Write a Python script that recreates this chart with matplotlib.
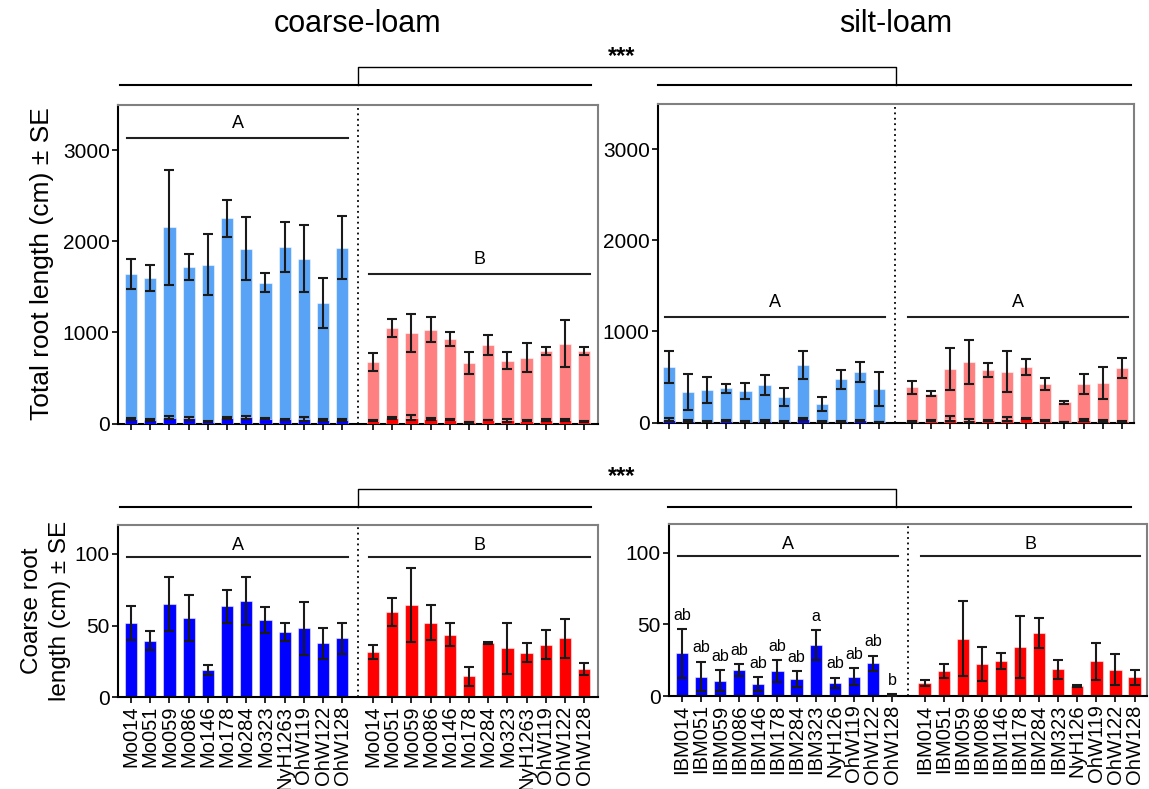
import matplotlib
matplotlib.use("Agg")
import matplotlib.pyplot as plt
from matplotlib.lines import Line2D
import numpy as np

plt.rcParams['font.family'] = ['Liberation Sans', 'DejaVu Sans']

mo_lines = ["Mo014", "Mo051", "Mo059", "Mo086", "Mo146", "Mo178", "Mo284",
            "Mo323", "NyH1263", "OhW119", "OhW122", "OhW128"]
ibm_lines = ["IBM014", "IBM051", "IBM059", "IBM086", "IBM146", "IBM178", "IBM284",
             "IBM323", "NyH126", "OhW119", "OhW122", "OhW128"]

# total root length (cm) -- coarse-loam
tot_cl_blue = [1640, 1595, 2155, 1720, 1740, 2250, 1920, 1547, 1936, 1808, 1320, 1929]
tot_cl_blue_se = [165, 143, 630, 143, 335, 200, 345, 107, 273, 368, 275, 348]
tot_cl_red = [678, 1049, 990, 1030, 928, 664, 862, 686, 722, 799, 876, 796]
tot_cl_red_se = [100, 95, 207, 137, 75, 117, 110, 93, 158, 44, 260, 48]
# total root length (cm) -- silt-loam
tot_sl_blue = [607, 335, 357, 375, 349, 412, 279, 629, 202, 474, 555, 368]
tot_sl_blue_se = [173, 193, 138, 48, 88, 112, 100, 156, 79, 105, 107, 186]
tot_sl_red = [386, 316, 588, 665, 577, 559, 607, 423, 221, 423, 434, 596]
tot_sl_red_se = [74, 28, 232, 245, 80, 225, 86, 66, 18, 110, 176, 112]

# coarse root length (cm)
crs_cl_blue = [51.7, 39.4, 65.0, 55.5, 18.9, 63.4, 66.9, 53.6, 45.2, 48.0, 37.8, 41.0]
crs_cl_blue_se = [11.8, 6.6, 19.0, 16.0, 3.7, 11.4, 16.8, 9.0, 6.3, 18.6, 10.8, 10.8]
crs_cl_red = [31.7, 59.2, 64.1, 52.0, 43.4, 14.5, 37.8, 34.0, 31.0, 36.6, 41.0, 20.0]
crs_cl_red_se = [4.9, 9.7, 25.7, 12.0, 8.0, 6.5, 0.5, 17.6, 6.5, 10.0, 13.5, 4.2]
crs_sl_blue = [29.9, 13.6, 10.7, 18.0, 8.2, 17.5, 11.9, 35.5, 9.3, 13.6, 22.7, 0.8]
crs_sl_blue_se = [17.0, 10.4, 7.2, 4.1, 4.9, 7.6, 5.5, 10.7, 3.6, 6.2, 5.5, 0.6]
crs_sl_red = [8.9, 17.5, 40.0, 22.4, 24.3, 34.3, 43.9, 18.7, 6.8, 24.3, 18.2, 13.1]
crs_sl_red_se = [2.2, 4.8, 26.3, 12.0, 5.8, 21.4, 10.7, 6.5, 0.7, 13.0, 10.8, 5.3]
crs_sl_blue_letters = ["ab", "ab", "ab", "ab", "ab", "ab", "ab", "a", "ab", "ab", "ab", "b"]

W, H = 1149, 789
LIGHT_BLUE, LIGHT_RED = "#58a3f6", "#ff8080"
BLUE, RED = "#0000ff", "#ff0000"


def px_axes(fig, left, top, right, bottom):
    # axes placed by pixel box (origin at top-left)
    return fig.add_axes([left / W, 1 - bottom / H, (right - left) / W, (bottom - top) / H])


def fig_line(fig, xs, ys, lw=1.5):
    fig.add_artist(Line2D([x / W for x in xs], [1 - y / H for y in ys],
                          transform=fig.transFigure, color="black", lw=lw))


def bars(ax, x, vals, se, color, z=2):
    ax.bar(x, vals, width=0.64, color=color, edgecolor=(1, 1, 1, 0.5), linewidth=0.8, zorder=z)
    ax.errorbar(x, vals, yerr=se, fmt="none", ecolor="#1a1a1a", elinewidth=1.5,
                capsize=3.5, capthick=1.5, zorder=z + 1)


def style(ax, ymax, yticks, xlim):
    ax.set_ylim(0, ymax)
    ax.set_xlim(*xlim)
    ax.set_yticks(yticks)
    for side in ["left", "bottom"]:
        ax.spines[side].set_color("black")
        ax.spines[side].set_linewidth(1.5)
    for side in ["top", "right"]:
        ax.spines[side].set_color("#808080")
        ax.spines[side].set_linewidth(1.5)
    ax.tick_params(axis="y", labelsize=15, length=4, width=1.2, pad=2)
    ax.tick_params(axis="x", labelsize=14.5, length=4, width=1.2, pad=2)


def group_line(ax, x0, x1, y, label, dy, lw=1.5):
    ax.plot([x0, x1], [y, y], color="#202020", lw=lw, zorder=3)
    ax.text((x0 + x1) / 2, y + dy, label, ha="center", va="center", fontsize=13)


fig = plt.figure(figsize=(W / 100, H / 100), dpi=100)

xb = np.arange(12)
gap_l, gap_r = 12.6, 12.7

# ---- total root length ----
panels_top = [
    ((118, 104.5, 598, 423.5), (-0.68, 24.32), gap_l,
     tot_cl_blue, tot_cl_blue_se, tot_cl_red, tot_cl_red_se,
     crs_cl_blue, crs_cl_blue_se, crs_cl_red, crs_cl_red_se,
     [(3132, "A"), (1637, "B")]),
    ((658, 103.5, 1134, 422.5), (-0.58, 24.34), gap_r,
     tot_sl_blue, tot_sl_blue_se, tot_sl_red, tot_sl_red_se,
     crs_sl_blue, crs_sl_blue_se, crs_sl_red, crs_sl_red_se,
     [(1158, "A"), (1158, "A")]),
]
for box, xlim, off, tb, tbse, tr, trse, cb, cbse, cr, crse, grp in panels_top:
    ax = px_axes(fig, *box)
    xr = xb + off
    bars(ax, xb, tb, tbse, LIGHT_BLUE)
    bars(ax, xr, tr, trse, LIGHT_RED)
    # coarse fraction drawn inside the totals
    bars(ax, xb, cb, cbse, BLUE, z=4)
    bars(ax, xr, cr, crse, RED, z=4)
    ax.axvline((11 + off) / 2, color="black", ls=(0, (1, 2)), lw=1.3, zorder=1)
    group_line(ax, -0.2, 11.3, grp[0][0], grp[0][1], 160)
    group_line(ax, off - 0.2, off + 11.3, grp[1][0], grp[1][1], 160)
    style(ax, 3500, [0, 1000, 2000, 3000], xlim)
    ax.set_xticks(np.concatenate([xb, xr]))
    ax.set_xticklabels([])

# ---- coarse root length ----
panels_bot = [
    ((118, 525, 598, 697.3), (-0.68, 24.32), gap_l, mo_lines,
     crs_cl_blue, crs_cl_blue_se, crs_cl_red, crs_cl_red_se, ["A", "B"], None),
    ((669, 524, 1147, 696), (-0.68, 24.35), gap_r, ibm_lines,
     crs_sl_blue, crs_sl_blue_se, crs_sl_red, crs_sl_red_se, ["A", "B"], crs_sl_blue_letters),
]
for box, xlim, off, names, cb, cbse, cr, crse, grp, letters in panels_bot:
    ax = px_axes(fig, *box)
    xr = xb + off
    bars(ax, xb, cb, cbse, BLUE)
    bars(ax, xr, cr, crse, RED)
    ax.axvline((11 + off) / 2, color="black", ls=(0, (1, 2)), lw=1.3, zorder=1)
    group_line(ax, -0.2, 11.3, 97.8, grp[0], 8)
    group_line(ax, off - 0.2, off + 11.3, 97.8, grp[1], 8)
    if letters is not None:
        for xi, v, s, lab in zip(xb, cb, cbse, letters):
            ax.text(xi, v + s + 9.5, lab, ha="center", va="center", fontsize=11.5)
    style(ax, 120, [0, 50, 100], xlim)
    ax.set_xticks(np.concatenate([xb, xr]))
    ax.set_xticklabels(names + names, rotation=90)

# soil titles
fig.text(358 / W, 1 - 24 / H, "coarse-loam", ha="center", va="center", fontsize=22)
fig.text(896 / W, 1 - 24 / H, "silt-loam", ha="center", va="center", fontsize=22)

# significance brackets between soils
for yl, yb, ys, xr0 in [(85, 67, 57, 658), (507, 489, 477, 668)]:
    fig_line(fig, [120, 591], [yl, yl])
    fig_line(fig, [xr0, 1131], [yl, yl])
    fig_line(fig, [358, 358, 896, 896], [yl, yb, yb, yl], lw=1.0)
    fig.text(622 / W, 1 - ys / H, "***", ha="center", va="center", fontsize=17, weight="bold")

fig.text(42 / W, 1 - 264 / H, "Total root length (cm) ± SE", rotation=90,
         ha="center", va="center", fontsize=19)
fig.text(46 / W, 1 - 611 / H, "Coarse root\nlength (cm) ± SE", rotation=90,
         ha="center", va="center", fontsize=17.5, linespacing=1.3)

fig.savefig("out.png", dpi=100)
